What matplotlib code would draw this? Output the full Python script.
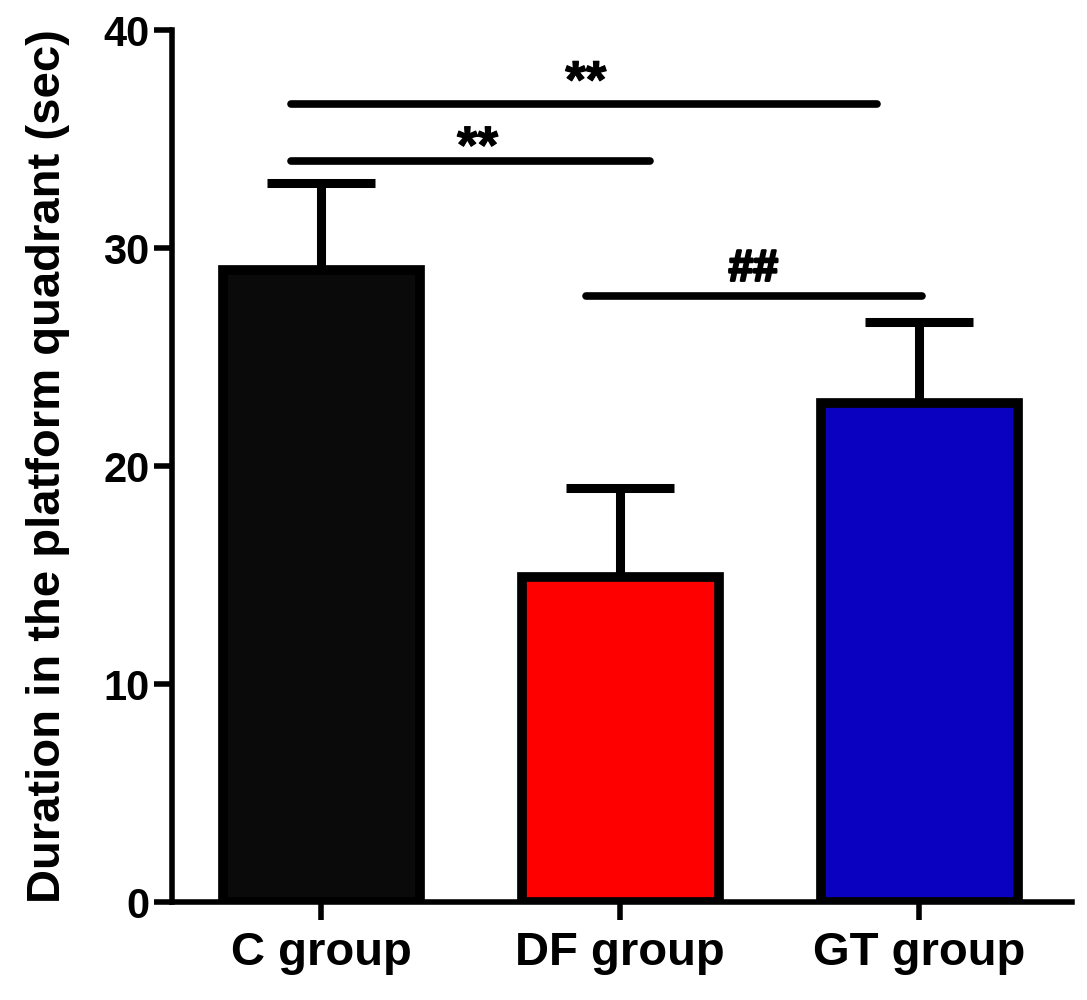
import matplotlib.pyplot as plt
import matplotlib.patheffects as path_effects

# datos
groups = ["C group", "DF group", "GT group"]
means = [29.0, 14.9, 22.9]
sem = [4.0, 4.1, 3.7]
colors = ["#0a0a0a", "#ff0000", "#0a00bf"]

# barras de significancia
sig_x0 = [-0.1, -0.1, 0.885]
sig_x1 = [1.86, 1.10, 2.01]
sig_y = [36.6, 34.0, 27.8]
sig_txt = ["**", "**", "##"]
sig_tx = [0.885, 0.523, 1.445]
sig_ty = [36.9, 33.9, 28.5]
sig_size = [38, 38, 32]

plt.rcParams['font.family'] = ['Liberation Sans', 'DejaVu Sans']
plt.rcParams['font.weight'] = 'bold'

fig = plt.figure(figsize=(10.87, 10), dpi=100)
ax = fig.add_axes([0.158, 0.098, 0.828, 0.872])

x = list(range(len(groups)))
ax.bar(x, means, width=0.66, color=colors, edgecolor="black", linewidth=7, zorder=3)
ax.errorbar(x, means, yerr=[[0] * 3, sem], fmt="none", ecolor="black",
            elinewidth=6.5, capsize=39, capthick=6.5, zorder=2)

for x0, x1, y, t, tx, ty, fs in zip(sig_x0, sig_x1, sig_y, sig_txt, sig_tx, sig_ty, sig_size):
    ax.plot([x0, x1], [y, y], color="black", linewidth=5.5, solid_capstyle="round")
    txt = ax.text(tx, ty, t, ha="center", va="baseline", fontsize=fs, fontweight="bold")
    # engrosar un poco los simbolos
    grosor = 1.8 if t == "##" else 0.8
    txt.set_path_effects([path_effects.withStroke(linewidth=grosor, foreground="black")])

ax.set_xlim(-0.5, 2.51)
ax.set_ylim(0, 40)
ax.set_yticks([0, 10, 20, 30, 40])
ax.set_xticks(x)
ax.set_xticklabels(groups, fontsize=34, fontweight="bold")
ax.tick_params(axis="y", labelsize=30, length=13, width=4, pad=3)
ax.tick_params(axis="x", length=13, width=4, pad=8)
for lab in ax.get_yticklabels():
    lab.set_fontweight("bold")

for s in ["top", "right"]:
    ax.spines[s].set_visible(False)
for s in ["left", "bottom"]:
    ax.spines[s].set_linewidth(4)

ax.set_ylabel("Duration in the platform quadrant (sec)", fontsize=34, fontweight="bold")
ax.yaxis.set_label_coords(-0.113, 0.5)

fig.savefig("out.png", dpi=100)
